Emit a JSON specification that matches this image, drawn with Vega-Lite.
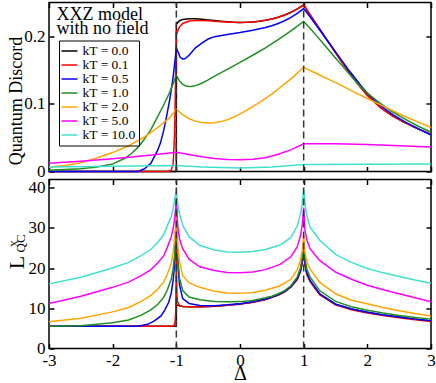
{
"$schema": "https://vega.github.io/schema/vega-lite/v6.json",
"autosize": {"type": "pad"},
"padding": {"left": 4, "top": 0.5, "right": 0, "bottom": 0},
"bounds": "flush",
"spacing": 8,
"config": {
  "font": "Liberation Serif",
  "view": {"stroke": "#000", "strokeWidth": 1.5},
  "axis": {"grid": false, "domain": false, "tickColor": "#000", "tickSize": -5, "tickWidth": 1.5, "labelFont": "Liberation Serif", "labelFontSize": 17, "labelColor": "#000", "labelPadding": 9, "labelFlush": false, "titleFont": "Liberation Serif", "titleColor": "#000", "titleFontWeight": "normal"},
  "line": {"strokeWidth": 1.5}
},
"datasets": {
"qd": [
{"kT":"kT = 0.0","D":-3,"Q":0},{"kT":"kT = 0.0","D":-2,"Q":0},{"kT":"kT = 0.0","D":-1,"Q":0},{"kT":"kT = 0.0","D":-0.999,"Q":0.218},{"kT":"kT = 0.0","D":-0.95,"Q":0.223},{"kT":"kT = 0.0","D":-0.9,"Q":0.225},{"kT":"kT = 0.0","D":-0.8,"Q":0.226},{"kT":"kT = 0.0","D":-0.7,"Q":0.2258},{"kT":"kT = 0.0","D":-0.6,"Q":0.2252},{"kT":"kT = 0.0","D":-0.5,"Q":0.2243},{"kT":"kT = 0.0","D":-0.4,"Q":0.2232},{"kT":"kT = 0.0","D":-0.3,"Q":0.2222},{"kT":"kT = 0.0","D":-0.2,"Q":0.2214},{"kT":"kT = 0.0","D":-0.1,"Q":0.2208},{"kT":"kT = 0.0","D":0,"Q":0.2205},{"kT":"kT = 0.0","D":0.1,"Q":0.2207},{"kT":"kT = 0.0","D":0.2,"Q":0.2213},{"kT":"kT = 0.0","D":0.3,"Q":0.2223},{"kT":"kT = 0.0","D":0.4,"Q":0.2237},{"kT":"kT = 0.0","D":0.5,"Q":0.2256},{"kT":"kT = 0.0","D":0.6,"Q":0.2282},{"kT":"kT = 0.0","D":0.7,"Q":0.2315},{"kT":"kT = 0.0","D":0.8,"Q":0.2355},{"kT":"kT = 0.0","D":0.9,"Q":0.2405},{"kT":"kT = 0.0","D":1,"Q":0.2465},{"kT":"kT = 0.0","D":1.1,"Q":0.232},{"kT":"kT = 0.0","D":1.2,"Q":0.218},{"kT":"kT = 0.0","D":1.3,"Q":0.204},{"kT":"kT = 0.0","D":1.4,"Q":0.19},{"kT":"kT = 0.0","D":1.5,"Q":0.176},{"kT":"kT = 0.0","D":1.6,"Q":0.162},{"kT":"kT = 0.0","D":1.7,"Q":0.149},{"kT":"kT = 0.0","D":1.8,"Q":0.136},{"kT":"kT = 0.0","D":1.9,"Q":0.124},{"kT":"kT = 0.0","D":2,"Q":0.113},{"kT":"kT = 0.0","D":2.2,"Q":0.095},{"kT":"kT = 0.0","D":2.4,"Q":0.082},{"kT":"kT = 0.0","D":2.6,"Q":0.072},{"kT":"kT = 0.0","D":2.8,"Q":0.063},{"kT":"kT = 0.0","D":3,"Q":0.055},
{"kT":"kT = 0.1","D":-3,"Q":0},{"kT":"kT = 0.1","D":-1.12,"Q":0},{"kT":"kT = 0.1","D":-1.08,"Q":0.002},{"kT":"kT = 0.1","D":-1.05,"Q":0.012},{"kT":"kT = 0.1","D":-1.03,"Q":0.05},{"kT":"kT = 0.1","D":-1.02,"Q":0.09},{"kT":"kT = 0.1","D":-1.01,"Q":0.15},{"kT":"kT = 0.1","D":-1,"Q":0.209},{"kT":"kT = 0.1","D":-0.99,"Q":0.205},{"kT":"kT = 0.1","D":-0.97,"Q":0.21},{"kT":"kT = 0.1","D":-0.95,"Q":0.214},{"kT":"kT = 0.1","D":-0.9,"Q":0.219},{"kT":"kT = 0.1","D":-0.8,"Q":0.2225},{"kT":"kT = 0.1","D":-0.7,"Q":0.2235},{"kT":"kT = 0.1","D":-0.6,"Q":0.2234},{"kT":"kT = 0.1","D":-0.5,"Q":0.2229},{"kT":"kT = 0.1","D":-0.4,"Q":0.2223},{"kT":"kT = 0.1","D":-0.3,"Q":0.2217},{"kT":"kT = 0.1","D":-0.2,"Q":0.2211},{"kT":"kT = 0.1","D":-0.1,"Q":0.2207},{"kT":"kT = 0.1","D":0,"Q":0.2204},{"kT":"kT = 0.1","D":0.1,"Q":0.2206},{"kT":"kT = 0.1","D":0.2,"Q":0.2212},{"kT":"kT = 0.1","D":0.3,"Q":0.2222},{"kT":"kT = 0.1","D":0.4,"Q":0.2236},{"kT":"kT = 0.1","D":0.5,"Q":0.2255},{"kT":"kT = 0.1","D":0.6,"Q":0.2281},{"kT":"kT = 0.1","D":0.7,"Q":0.2314},{"kT":"kT = 0.1","D":0.8,"Q":0.2354},{"kT":"kT = 0.1","D":0.9,"Q":0.2403},{"kT":"kT = 0.1","D":1,"Q":0.2462},{"kT":"kT = 0.1","D":1.1,"Q":0.2318},{"kT":"kT = 0.1","D":1.2,"Q":0.2178},{"kT":"kT = 0.1","D":1.3,"Q":0.2038},{"kT":"kT = 0.1","D":1.4,"Q":0.1898},{"kT":"kT = 0.1","D":1.5,"Q":0.1758},{"kT":"kT = 0.1","D":1.6,"Q":0.1618},{"kT":"kT = 0.1","D":1.7,"Q":0.1488},{"kT":"kT = 0.1","D":1.8,"Q":0.1358},{"kT":"kT = 0.1","D":1.9,"Q":0.1238},{"kT":"kT = 0.1","D":2,"Q":0.1128},{"kT":"kT = 0.1","D":2.2,"Q":0.0948},{"kT":"kT = 0.1","D":2.4,"Q":0.0818},{"kT":"kT = 0.1","D":2.6,"Q":0.0718},{"kT":"kT = 0.1","D":2.8,"Q":0.0628},{"kT":"kT = 0.1","D":3,"Q":0.055},
{"kT":"kT = 0.5","D":-3,"Q":0},{"kT":"kT = 0.5","D":-1.6,"Q":0},{"kT":"kT = 0.5","D":-1.5,"Q":0.004},{"kT":"kT = 0.5","D":-1.4,"Q":0.012},{"kT":"kT = 0.5","D":-1.3,"Q":0.03},{"kT":"kT = 0.5","D":-1.25,"Q":0.042},{"kT":"kT = 0.5","D":-1.2,"Q":0.06},{"kT":"kT = 0.5","D":-1.15,"Q":0.083},{"kT":"kT = 0.5","D":-1.1,"Q":0.108},{"kT":"kT = 0.5","D":-1.05,"Q":0.14},{"kT":"kT = 0.5","D":-1.02,"Q":0.165},{"kT":"kT = 0.5","D":-1,"Q":0.183},{"kT":"kT = 0.5","D":-0.97,"Q":0.176},{"kT":"kT = 0.5","D":-0.94,"Q":0.169},{"kT":"kT = 0.5","D":-0.9,"Q":0.1665},{"kT":"kT = 0.5","D":-0.86,"Q":0.167},{"kT":"kT = 0.5","D":-0.8,"Q":0.172},{"kT":"kT = 0.5","D":-0.7,"Q":0.183},{"kT":"kT = 0.5","D":-0.6,"Q":0.19},{"kT":"kT = 0.5","D":-0.5,"Q":0.196},{"kT":"kT = 0.5","D":-0.4,"Q":0.1995},{"kT":"kT = 0.5","D":-0.2,"Q":0.2025},{"kT":"kT = 0.5","D":0,"Q":0.2055},{"kT":"kT = 0.5","D":0.2,"Q":0.209},{"kT":"kT = 0.5","D":0.4,"Q":0.213},{"kT":"kT = 0.5","D":0.5,"Q":0.2155},{"kT":"kT = 0.5","D":0.6,"Q":0.219},{"kT":"kT = 0.5","D":0.7,"Q":0.223},{"kT":"kT = 0.5","D":0.8,"Q":0.228},{"kT":"kT = 0.5","D":0.9,"Q":0.234},{"kT":"kT = 0.5","D":1,"Q":0.241},{"kT":"kT = 0.5","D":1.1,"Q":0.229},{"kT":"kT = 0.5","D":1.2,"Q":0.216},{"kT":"kT = 0.5","D":1.3,"Q":0.203},{"kT":"kT = 0.5","D":1.4,"Q":0.19},{"kT":"kT = 0.5","D":1.5,"Q":0.177},{"kT":"kT = 0.5","D":1.6,"Q":0.164},{"kT":"kT = 0.5","D":1.7,"Q":0.151},{"kT":"kT = 0.5","D":1.8,"Q":0.139},{"kT":"kT = 0.5","D":1.9,"Q":0.127},{"kT":"kT = 0.5","D":2,"Q":0.116},{"kT":"kT = 0.5","D":2.2,"Q":0.098},{"kT":"kT = 0.5","D":2.4,"Q":0.084},{"kT":"kT = 0.5","D":2.6,"Q":0.073},{"kT":"kT = 0.5","D":2.8,"Q":0.063},{"kT":"kT = 0.5","D":3,"Q":0.054},
{"kT":"kT = 1.0","D":-3,"Q":0.002},{"kT":"kT = 1.0","D":-2.5,"Q":0.004},{"kT":"kT = 1.0","D":-2.25,"Q":0.0065},{"kT":"kT = 1.0","D":-2,"Q":0.011},{"kT":"kT = 1.0","D":-1.8,"Q":0.02},{"kT":"kT = 1.0","D":-1.7,"Q":0.027},{"kT":"kT = 1.0","D":-1.6,"Q":0.036},{"kT":"kT = 1.0","D":-1.5,"Q":0.048},{"kT":"kT = 1.0","D":-1.4,"Q":0.062},{"kT":"kT = 1.0","D":-1.3,"Q":0.08},{"kT":"kT = 1.0","D":-1.2,"Q":0.098},{"kT":"kT = 1.0","D":-1.1,"Q":0.118},{"kT":"kT = 1.0","D":-1,"Q":0.142},{"kT":"kT = 1.0","D":-0.95,"Q":0.134},{"kT":"kT = 1.0","D":-0.9,"Q":0.129},{"kT":"kT = 1.0","D":-0.85,"Q":0.1265},{"kT":"kT = 1.0","D":-0.8,"Q":0.1258},{"kT":"kT = 1.0","D":-0.75,"Q":0.126},{"kT":"kT = 1.0","D":-0.7,"Q":0.127},{"kT":"kT = 1.0","D":-0.6,"Q":0.1305},{"kT":"kT = 1.0","D":-0.5,"Q":0.1355},{"kT":"kT = 1.0","D":-0.4,"Q":0.141},{"kT":"kT = 1.0","D":-0.2,"Q":0.151},{"kT":"kT = 1.0","D":0,"Q":0.1615},{"kT":"kT = 1.0","D":0.2,"Q":0.172},{"kT":"kT = 1.0","D":0.4,"Q":0.183},{"kT":"kT = 1.0","D":0.6,"Q":0.195},{"kT":"kT = 1.0","D":0.8,"Q":0.208},{"kT":"kT = 1.0","D":1,"Q":0.222},{"kT":"kT = 1.0","D":1.1,"Q":0.212},{"kT":"kT = 1.0","D":1.2,"Q":0.201},{"kT":"kT = 1.0","D":1.3,"Q":0.19},{"kT":"kT = 1.0","D":1.4,"Q":0.179},{"kT":"kT = 1.0","D":1.5,"Q":0.168},{"kT":"kT = 1.0","D":1.6,"Q":0.157},{"kT":"kT = 1.0","D":1.7,"Q":0.146},{"kT":"kT = 1.0","D":1.8,"Q":0.135},{"kT":"kT = 1.0","D":1.9,"Q":0.125},{"kT":"kT = 1.0","D":2,"Q":0.116},{"kT":"kT = 1.0","D":2.2,"Q":0.101},{"kT":"kT = 1.0","D":2.4,"Q":0.088},{"kT":"kT = 1.0","D":2.6,"Q":0.077},{"kT":"kT = 1.0","D":2.8,"Q":0.067},{"kT":"kT = 1.0","D":3,"Q":0.058},
{"kT":"kT = 2.0","D":-3,"Q":0.0064},{"kT":"kT = 2.0","D":-2.75,"Q":0.009},{"kT":"kT = 2.0","D":-2.5,"Q":0.013},{"kT":"kT = 2.0","D":-2.25,"Q":0.02},{"kT":"kT = 2.0","D":-2,"Q":0.028},{"kT":"kT = 2.0","D":-1.75,"Q":0.038},{"kT":"kT = 2.0","D":-1.5,"Q":0.051},{"kT":"kT = 2.0","D":-1.25,"Q":0.068},{"kT":"kT = 2.0","D":-1.1,"Q":0.08},{"kT":"kT = 2.0","D":-1,"Q":0.092},{"kT":"kT = 2.0","D":-0.9,"Q":0.084},{"kT":"kT = 2.0","D":-0.8,"Q":0.078},{"kT":"kT = 2.0","D":-0.7,"Q":0.0745},{"kT":"kT = 2.0","D":-0.6,"Q":0.0725},{"kT":"kT = 2.0","D":-0.5,"Q":0.0718},{"kT":"kT = 2.0","D":-0.4,"Q":0.0722},{"kT":"kT = 2.0","D":-0.3,"Q":0.0738},{"kT":"kT = 2.0","D":-0.2,"Q":0.0765},{"kT":"kT = 2.0","D":-0.1,"Q":0.0805},{"kT":"kT = 2.0","D":0,"Q":0.0852},{"kT":"kT = 2.0","D":0.1,"Q":0.0905},{"kT":"kT = 2.0","D":0.2,"Q":0.096},{"kT":"kT = 2.0","D":0.3,"Q":0.102},{"kT":"kT = 2.0","D":0.4,"Q":0.108},{"kT":"kT = 2.0","D":0.5,"Q":0.1145},{"kT":"kT = 2.0","D":0.6,"Q":0.122},{"kT":"kT = 2.0","D":0.7,"Q":0.1295},{"kT":"kT = 2.0","D":0.8,"Q":0.137},{"kT":"kT = 2.0","D":0.9,"Q":0.1455},{"kT":"kT = 2.0","D":1,"Q":0.154},{"kT":"kT = 2.0","D":1.2,"Q":0.145},{"kT":"kT = 2.0","D":1.4,"Q":0.136},{"kT":"kT = 2.0","D":1.6,"Q":0.127},{"kT":"kT = 2.0","D":1.8,"Q":0.117},{"kT":"kT = 2.0","D":2,"Q":0.108},{"kT":"kT = 2.0","D":2.2,"Q":0.099},{"kT":"kT = 2.0","D":2.4,"Q":0.09},{"kT":"kT = 2.0","D":2.6,"Q":0.081},{"kT":"kT = 2.0","D":2.8,"Q":0.073},{"kT":"kT = 2.0","D":3,"Q":0.065},
{"kT":"kT = 5.0","D":-3,"Q":0.0123},{"kT":"kT = 5.0","D":-2.5,"Q":0.0152},{"kT":"kT = 5.0","D":-2,"Q":0.0188},{"kT":"kT = 5.0","D":-1.5,"Q":0.0233},{"kT":"kT = 5.0","D":-1,"Q":0.0286},{"kT":"kT = 5.0","D":-0.8,"Q":0.0252},{"kT":"kT = 5.0","D":-0.6,"Q":0.0218},{"kT":"kT = 5.0","D":-0.4,"Q":0.0194},{"kT":"kT = 5.0","D":-0.2,"Q":0.0178},{"kT":"kT = 5.0","D":0,"Q":0.0173},{"kT":"kT = 5.0","D":0.2,"Q":0.0182},{"kT":"kT = 5.0","D":0.4,"Q":0.0205},{"kT":"kT = 5.0","D":0.6,"Q":0.0255},{"kT":"kT = 5.0","D":0.8,"Q":0.032},{"kT":"kT = 5.0","D":1,"Q":0.041},{"kT":"kT = 5.0","D":1.5,"Q":0.0412},{"kT":"kT = 5.0","D":2,"Q":0.04},{"kT":"kT = 5.0","D":2.5,"Q":0.0382},{"kT":"kT = 5.0","D":3,"Q":0.0362},
{"kT":"kT = 10.0","D":-3,"Q":0.0068},{"kT":"kT = 10.0","D":-2,"Q":0.0079},{"kT":"kT = 10.0","D":-1,"Q":0.0089},{"kT":"kT = 10.0","D":-0.6,"Q":0.0065},{"kT":"kT = 10.0","D":0,"Q":0.005},{"kT":"kT = 10.0","D":0.5,"Q":0.0065},{"kT":"kT = 10.0","D":1,"Q":0.0104},{"kT":"kT = 10.0","D":2,"Q":0.0107},{"kT":"kT = 10.0","D":3,"Q":0.011}
],
"lx": [
{"kT":"kT = 0.0","D":-3,"L":5.5},{"kT":"kT = 0.0","D":-1,"L":5.5},{"kT":"kT = 0.0","D":-0.999,"L":10.8},{"kT":"kT = 0.0","D":-0.95,"L":10.6},{"kT":"kT = 0.0","D":-0.9,"L":10.45},{"kT":"kT = 0.0","D":-0.8,"L":10.35},{"kT":"kT = 0.0","D":-0.6,"L":10.35},{"kT":"kT = 0.0","D":-0.4,"L":10.5},{"kT":"kT = 0.0","D":-0.2,"L":10.75},{"kT":"kT = 0.0","D":0,"L":11.05},{"kT":"kT = 0.0","D":0.2,"L":11.5},{"kT":"kT = 0.0","D":0.4,"L":12.2},{"kT":"kT = 0.0","D":0.5,"L":12.7},{"kT":"kT = 0.0","D":0.6,"L":13.3},{"kT":"kT = 0.0","D":0.7,"L":14.1},{"kT":"kT = 0.0","D":0.8,"L":15.3},{"kT":"kT = 0.0","D":0.9,"L":17.2},{"kT":"kT = 0.0","D":0.95,"L":19.2},{"kT":"kT = 0.0","D":0.98,"L":21.6},{"kT":"kT = 0.0","D":1,"L":25},{"kT":"kT = 0.0","D":1.02,"L":21},{"kT":"kT = 0.0","D":1.05,"L":18.6},{"kT":"kT = 0.0","D":1.1,"L":16.8},{"kT":"kT = 0.0","D":1.25,"L":13.6},{"kT":"kT = 0.0","D":1.5,"L":11},{"kT":"kT = 0.0","D":1.75,"L":9.8},{"kT":"kT = 0.0","D":2,"L":9},{"kT":"kT = 0.0","D":2.25,"L":8.35},{"kT":"kT = 0.0","D":2.5,"L":7.8},{"kT":"kT = 0.0","D":2.75,"L":7.3},{"kT":"kT = 0.0","D":3,"L":6.85},
{"kT":"kT = 0.1","D":-3,"L":5.5},{"kT":"kT = 0.1","D":-1.08,"L":5.5},{"kT":"kT = 0.1","D":-1.04,"L":5.7},{"kT":"kT = 0.1","D":-1.02,"L":6.5},{"kT":"kT = 0.1","D":-1.01,"L":9},{"kT":"kT = 0.1","D":-1.004,"L":16},{"kT":"kT = 0.1","D":-1,"L":33},{"kT":"kT = 0.1","D":-0.996,"L":18},{"kT":"kT = 0.1","D":-0.99,"L":13},{"kT":"kT = 0.1","D":-0.98,"L":11.5},{"kT":"kT = 0.1","D":-0.95,"L":10.7},{"kT":"kT = 0.1","D":-0.9,"L":10.45},{"kT":"kT = 0.1","D":-0.8,"L":10.35},{"kT":"kT = 0.1","D":-0.6,"L":10.35},{"kT":"kT = 0.1","D":-0.4,"L":10.5},{"kT":"kT = 0.1","D":-0.2,"L":10.75},{"kT":"kT = 0.1","D":0,"L":11.05},{"kT":"kT = 0.1","D":0.2,"L":11.5},{"kT":"kT = 0.1","D":0.4,"L":12.2},{"kT":"kT = 0.1","D":0.5,"L":12.7},{"kT":"kT = 0.1","D":0.6,"L":13.3},{"kT":"kT = 0.1","D":0.7,"L":14.1},{"kT":"kT = 0.1","D":0.8,"L":15.3},{"kT":"kT = 0.1","D":0.9,"L":17.2},{"kT":"kT = 0.1","D":0.95,"L":19.2},{"kT":"kT = 0.1","D":0.98,"L":21.7},{"kT":"kT = 0.1","D":1,"L":25.5},{"kT":"kT = 0.1","D":1.02,"L":21},{"kT":"kT = 0.1","D":1.05,"L":18.4},{"kT":"kT = 0.1","D":1.1,"L":16.6},{"kT":"kT = 0.1","D":1.25,"L":13.4},{"kT":"kT = 0.1","D":1.5,"L":10.85},{"kT":"kT = 0.1","D":1.75,"L":9.65},{"kT":"kT = 0.1","D":2,"L":8.85},{"kT":"kT = 0.1","D":2.25,"L":8.2},{"kT":"kT = 0.1","D":2.5,"L":7.65},{"kT":"kT = 0.1","D":2.75,"L":7.15},{"kT":"kT = 0.1","D":3,"L":6.7},
{"kT":"kT = 0.5","D":-3,"L":5.5},{"kT":"kT = 0.5","D":-1.7,"L":5.5},{"kT":"kT = 0.5","D":-1.6,"L":5.55},{"kT":"kT = 0.5","D":-1.45,"L":6},{"kT":"kT = 0.5","D":-1.35,"L":6.8},{"kT":"kT = 0.5","D":-1.24,"L":8.1},{"kT":"kT = 0.5","D":-1.18,"L":9.6},{"kT":"kT = 0.5","D":-1.12,"L":11.5},{"kT":"kT = 0.5","D":-1.08,"L":13.8},{"kT":"kT = 0.5","D":-1.05,"L":17},{"kT":"kT = 0.5","D":-1.03,"L":20.5},{"kT":"kT = 0.5","D":-1.015,"L":26},{"kT":"kT = 0.5","D":-1,"L":35},{"kT":"kT = 0.5","D":-0.985,"L":25},{"kT":"kT = 0.5","D":-0.97,"L":20},{"kT":"kT = 0.5","D":-0.95,"L":15.8},{"kT":"kT = 0.5","D":-0.9,"L":12.4},{"kT":"kT = 0.5","D":-0.8,"L":11.2},{"kT":"kT = 0.5","D":-0.63,"L":10.7},{"kT":"kT = 0.5","D":-0.4,"L":10.65},{"kT":"kT = 0.5","D":-0.2,"L":10.85},{"kT":"kT = 0.5","D":0,"L":11.15},{"kT":"kT = 0.5","D":0.2,"L":11.6},{"kT":"kT = 0.5","D":0.4,"L":12.3},{"kT":"kT = 0.5","D":0.5,"L":12.8},{"kT":"kT = 0.5","D":0.6,"L":13.4},{"kT":"kT = 0.5","D":0.7,"L":14.2},{"kT":"kT = 0.5","D":0.8,"L":15.4},{"kT":"kT = 0.5","D":0.9,"L":17.4},{"kT":"kT = 0.5","D":0.95,"L":19.5},{"kT":"kT = 0.5","D":0.98,"L":22},{"kT":"kT = 0.5","D":1,"L":26},{"kT":"kT = 0.5","D":1.02,"L":21.3},{"kT":"kT = 0.5","D":1.05,"L":18.8},{"kT":"kT = 0.5","D":1.1,"L":16.9},{"kT":"kT = 0.5","D":1.25,"L":13.6},{"kT":"kT = 0.5","D":1.5,"L":11},{"kT":"kT = 0.5","D":1.75,"L":9.8},{"kT":"kT = 0.5","D":2,"L":9},{"kT":"kT = 0.5","D":2.25,"L":8.35},{"kT":"kT = 0.5","D":2.5,"L":7.8},{"kT":"kT = 0.5","D":2.75,"L":7.3},{"kT":"kT = 0.5","D":3,"L":6.9},
{"kT":"kT = 1.0","D":-3,"L":5.5},{"kT":"kT = 1.0","D":-2.5,"L":5.66},{"kT":"kT = 1.0","D":-2,"L":6.4},{"kT":"kT = 1.0","D":-1.75,"L":7.1},{"kT":"kT = 1.0","D":-1.55,"L":8.3},{"kT":"kT = 1.0","D":-1.4,"L":9.6},{"kT":"kT = 1.0","D":-1.29,"L":11},{"kT":"kT = 1.0","D":-1.2,"L":12.7},{"kT":"kT = 1.0","D":-1.14,"L":14.6},{"kT":"kT = 1.0","D":-1.08,"L":17.2},{"kT":"kT = 1.0","D":-1.05,"L":19.8},{"kT":"kT = 1.0","D":-1.025,"L":23.5},{"kT":"kT = 1.0","D":-1.01,"L":28},{"kT":"kT = 1.0","D":-1,"L":36},{"kT":"kT = 1.0","D":-0.99,"L":28},{"kT":"kT = 1.0","D":-0.975,"L":22},{"kT":"kT = 1.0","D":-0.95,"L":17.5},{"kT":"kT = 1.0","D":-0.9,"L":14.4},{"kT":"kT = 1.0","D":-0.8,"L":12.8},{"kT":"kT = 1.0","D":-0.63,"L":12.1},{"kT":"kT = 1.0","D":-0.4,"L":11.7},{"kT":"kT = 1.0","D":-0.2,"L":11.6},{"kT":"kT = 1.0","D":0,"L":11.65},{"kT":"kT = 1.0","D":0.2,"L":11.95},{"kT":"kT = 1.0","D":0.4,"L":12.6},{"kT":"kT = 1.0","D":0.5,"L":13},{"kT":"kT = 1.0","D":0.6,"L":13.6},{"kT":"kT = 1.0","D":0.7,"L":14.4},{"kT":"kT = 1.0","D":0.8,"L":15.6},{"kT":"kT = 1.0","D":0.9,"L":17.8},{"kT":"kT = 1.0","D":0.95,"L":20},{"kT":"kT = 1.0","D":0.98,"L":22.8},{"kT":"kT = 1.0","D":1,"L":26.5},{"kT":"kT = 1.0","D":1.02,"L":22.3},{"kT":"kT = 1.0","D":1.05,"L":19.7},{"kT":"kT = 1.0","D":1.1,"L":17.8},{"kT":"kT = 1.0","D":1.25,"L":14.4},{"kT":"kT = 1.0","D":1.5,"L":11.7},{"kT":"kT = 1.0","D":1.75,"L":10.4},{"kT":"kT = 1.0","D":2,"L":9.5},{"kT":"kT = 1.0","D":2.25,"L":8.8},{"kT":"kT = 1.0","D":2.5,"L":8.2},{"kT":"kT = 1.0","D":2.75,"L":7.7},{"kT":"kT = 1.0","D":3,"L":7.3},
{"kT":"kT = 2.0","D":-3,"L":6.66},{"kT":"kT = 2.0","D":-2.5,"L":7.5},{"kT":"kT = 2.0","D":-2,"L":9.1},{"kT":"kT = 2.0","D":-1.75,"L":10.2},{"kT":"kT = 2.0","D":-1.55,"L":11.7},{"kT":"kT = 2.0","D":-1.4,"L":13.2},{"kT":"kT = 2.0","D":-1.29,"L":14.8},{"kT":"kT = 2.0","D":-1.2,"L":16.5},{"kT":"kT = 2.0","D":-1.14,"L":18.5},{"kT":"kT = 2.0","D":-1.08,"L":21.2},{"kT":"kT = 2.0","D":-1.05,"L":23.9},{"kT":"kT = 2.0","D":-1.025,"L":27.5},{"kT":"kT = 2.0","D":-1.01,"L":31},{"kT":"kT = 2.0","D":-1,"L":37},{"kT":"kT = 2.0","D":-0.99,"L":30},{"kT":"kT = 2.0","D":-0.975,"L":25},{"kT":"kT = 2.0","D":-0.95,"L":21.5},{"kT":"kT = 2.0","D":-0.9,"L":18.1},{"kT":"kT = 2.0","D":-0.8,"L":16.3},{"kT":"kT = 2.0","D":-0.63,"L":15.2},{"kT":"kT = 2.0","D":-0.4,"L":14.2},{"kT":"kT = 2.0","D":-0.2,"L":13.8},{"kT":"kT = 2.0","D":0,"L":13.7},{"kT":"kT = 2.0","D":0.2,"L":13.9},{"kT":"kT = 2.0","D":0.4,"L":14.5},{"kT":"kT = 2.0","D":0.63,"L":15.6},{"kT":"kT = 2.0","D":0.8,"L":17.2},{"kT":"kT = 2.0","D":0.9,"L":19.6},{"kT":"kT = 2.0","D":0.95,"L":22},{"kT":"kT = 2.0","D":0.98,"L":24.5},{"kT":"kT = 2.0","D":1,"L":28.2},{"kT":"kT = 2.0","D":1.02,"L":24},{"kT":"kT = 2.0","D":1.05,"L":21.5},{"kT":"kT = 2.0","D":1.1,"L":19.8},{"kT":"kT = 2.0","D":1.25,"L":16.5},{"kT":"kT = 2.0","D":1.5,"L":13.6},{"kT":"kT = 2.0","D":1.75,"L":12},{"kT":"kT = 2.0","D":2,"L":11.1},{"kT":"kT = 2.0","D":2.25,"L":10.2},{"kT":"kT = 2.0","D":2.5,"L":9.4},{"kT":"kT = 2.0","D":2.75,"L":8.7},{"kT":"kT = 2.0","D":3,"L":8.1},
{"kT":"kT = 5.0","D":-3,"L":11.2},{"kT":"kT = 5.0","D":-2.5,"L":13},{"kT":"kT = 5.0","D":-2,"L":15.2},{"kT":"kT = 5.0","D":-1.75,"L":16.5},{"kT":"kT = 5.0","D":-1.55,"L":18.1},{"kT":"kT = 5.0","D":-1.4,"L":19.6},{"kT":"kT = 5.0","D":-1.29,"L":21.3},{"kT":"kT = 5.0","D":-1.2,"L":23},{"kT":"kT = 5.0","D":-1.14,"L":25.2},{"kT":"kT = 5.0","D":-1.08,"L":27.8},{"kT":"kT = 5.0","D":-1.05,"L":29.8},{"kT":"kT = 5.0","D":-1.025,"L":32.5},{"kT":"kT = 5.0","D":-1.01,"L":35},{"kT":"kT = 5.0","D":-1,"L":37.5},{"kT":"kT = 5.0","D":-0.99,"L":33.5},{"kT":"kT = 5.0","D":-0.975,"L":30},{"kT":"kT = 5.0","D":-0.95,"L":27.2},{"kT":"kT = 5.0","D":-0.9,"L":24.8},{"kT":"kT = 5.0","D":-0.8,"L":22.2},{"kT":"kT = 5.0","D":-0.63,"L":20.3},{"kT":"kT = 5.0","D":-0.4,"L":19.4},{"kT":"kT = 5.0","D":-0.2,"L":18.9},{"kT":"kT = 5.0","D":0,"L":18.8},{"kT":"kT = 5.0","D":0.2,"L":19},{"kT":"kT = 5.0","D":0.4,"L":19.6},{"kT":"kT = 5.0","D":0.63,"L":20.9},{"kT":"kT = 5.0","D":0.8,"L":22.8},{"kT":"kT = 5.0","D":0.9,"L":25.3},{"kT":"kT = 5.0","D":0.95,"L":28},{"kT":"kT = 5.0","D":0.98,"L":31},{"kT":"kT = 5.0","D":1,"L":35},{"kT":"kT = 5.0","D":1.02,"L":29.5},{"kT":"kT = 5.0","D":1.05,"L":27},{"kT":"kT = 5.0","D":1.1,"L":24.8},{"kT":"kT = 5.0","D":1.25,"L":21.9},{"kT":"kT = 5.0","D":1.5,"L":19},{"kT":"kT = 5.0","D":1.75,"L":17.2},{"kT":"kT = 5.0","D":2,"L":15.7},{"kT":"kT = 5.0","D":2.25,"L":14.6},{"kT":"kT = 5.0","D":2.5,"L":13.6},{"kT":"kT = 5.0","D":2.75,"L":12.6},{"kT":"kT = 5.0","D":3,"L":11.6},
{"kT":"kT = 10.0","D":-3,"L":16.06},{"kT":"kT = 10.0","D":-2.5,"L":17.7},{"kT":"kT = 10.0","D":-2,"L":20},{"kT":"kT = 10.0","D":-1.75,"L":21.4},{"kT":"kT = 10.0","D":-1.55,"L":23.1},{"kT":"kT = 10.0","D":-1.4,"L":24.6},{"kT":"kT = 10.0","D":-1.29,"L":26.4},{"kT":"kT = 10.0","D":-1.2,"L":28.2},{"kT":"kT = 10.0","D":-1.14,"L":30.6},{"kT":"kT = 10.0","D":-1.08,"L":32.8},{"kT":"kT = 10.0","D":-1.05,"L":34.8},{"kT":"kT = 10.0","D":-1.025,"L":37},{"kT":"kT = 10.0","D":-1,"L":39.5},{"kT":"kT = 10.0","D":-0.975,"L":35.5},{"kT":"kT = 10.0","D":-0.95,"L":33.5},{"kT":"kT = 10.0","D":-0.9,"L":30.6},{"kT":"kT = 10.0","D":-0.8,"L":27.8},{"kT":"kT = 10.0","D":-0.63,"L":25.6},{"kT":"kT = 10.0","D":-0.4,"L":24.5},{"kT":"kT = 10.0","D":-0.2,"L":24},{"kT":"kT = 10.0","D":0,"L":23.9},{"kT":"kT = 10.0","D":0.2,"L":24.1},{"kT":"kT = 10.0","D":0.4,"L":24.6},{"kT":"kT = 10.0","D":0.63,"L":25.7},{"kT":"kT = 10.0","D":0.8,"L":27.6},{"kT":"kT = 10.0","D":0.9,"L":30.5},{"kT":"kT = 10.0","D":0.95,"L":33.4},{"kT":"kT = 10.0","D":0.975,"L":35.8},{"kT":"kT = 10.0","D":1,"L":39.5},{"kT":"kT = 10.0","D":1.025,"L":35.5},{"kT":"kT = 10.0","D":1.05,"L":33},{"kT":"kT = 10.0","D":1.1,"L":30.2},{"kT":"kT = 10.0","D":1.25,"L":26.9},{"kT":"kT = 10.0","D":1.5,"L":23.4},{"kT":"kT = 10.0","D":1.75,"L":21.4},{"kT":"kT = 10.0","D":2,"L":19.9},{"kT":"kT = 10.0","D":2.25,"L":18.8},{"kT":"kT = 10.0","D":2.5,"L":17.9},{"kT":"kT = 10.0","D":2.75,"L":17},{"kT":"kT = 10.0","D":3,"L":16.2}
],
"marks": [{"D": -1}, {"D": 1}]
},
"vconcat": [
{
  "width": 382, "height": 169,
  "layer": [
    {
      "data": {"name": "qd"},
      "mark": {"type": "line", "strokeWidth": 1.5},
      "encoding": {
        "x": {"field": "D", "type": "quantitative", "scale": {"domain": [-3, 3], "nice": false, "zero": false},
              "axis": {"orient": "bottom", "values": [-3, -2, -1, 0, 1, 2, 3], "labels": false, "title": null}},
        "y": {"field": "Q", "type": "quantitative", "scale": {"domain": [0, 0.25], "nice": false},
              "axis": {"orient": "left", "values": [0, 0.1, 0.2], "format": ".1~f", "title": "Quantum Discord", "titleFontSize": 18, "titleAngle": 270, "titleX": -27.3, "titleY": 98, "titleAlign": "center", "titleBaseline": "alphabetic"}},
        "color": {"field": "kT", "type": "nominal",
          "scale": {"domain": ["kT = 0.0", "kT = 0.1", "kT = 0.5", "kT = 1.0", "kT = 2.0", "kT = 5.0", "kT = 10.0"],
                    "range": ["#000000", "#ff0000", "#0000ff", "#1f8f1f", "#ffa500", "#ff00ff", "#40e0d0"]},
          "legend": {"orient": "none", "legendX": 10, "legendY": 38, "title": null, "strokeColor": "#000", "padding": 3.5, "symbolType": "M-1.3,0H1.3", "symbolSize": 150, "symbolStrokeWidth": 1.5, "labelFont": "Liberation Serif", "labelFontSize": 13.5, "labelColor": "#000", "labelOffset": 6, "rowPadding": -0.4}}
      }
    },
    {
      "data": {"name": "marks"},
      "mark": {"type": "rule", "strokeDash": [7, 4], "strokeWidth": 1.5, "color": "#333"},
      "encoding": {
        "x": {"field": "D", "type": "quantitative", "scale": {"domain": [-3, 3], "nice": false, "zero": false},
              "axis": {"orient": "top", "values": [-3, -2, -1, 0, 1, 2, 3], "labels": false, "title": ["XXZ model", "with no field"], "titleX": 7, "titleY": 17.3, "titleAlign": "left", "titleBaseline": "alphabetic", "titleAngle": 0, "titleFontSize": 18, "titleLineHeight": 14}},
        "y": {"datum": 0, "scale": {"domain": [0, 0.25], "nice": false},
              "axis": {"orient": "right", "values": [0, 0.1, 0.2], "labels": false, "title": null}},
        "y2": {"datum": 0.25}
      }
    }
  ],
  "resolve": {"axis": {"x": "independent", "y": "independent"}}
},
{
  "width": 382, "height": 169,
  "layer": [
    {
      "data": {"name": "lx"},
      "mark": {"type": "line", "strokeWidth": 1.5},
      "encoding": {
        "x": {"field": "D", "type": "quantitative", "scale": {"domain": [-3, 3], "nice": false, "zero": false},
              "axis": {"orient": "bottom", "values": [-3, -2, -1, 0, 1, 2, 3], "labelExpr": "replace(datum.label, '\u2212', '-')", "title": "Δ", "titleFontSize": 20, "titleX": 191, "titleY": 31, "titleAlign": "center", "titleBaseline": "alphabetic"}},
        "y": {"field": "L", "type": "quantitative", "scale": {"domain": [0, 42], "nice": false},
              "axis": {"orient": "left", "values": [0, 10, 20, 30, 40], "title": "L", "titleFontSize": 22, "titleAngle": 270, "titleX": -25.7, "titleY": 89.3, "titleAlign": "left", "titleBaseline": "alphabetic"}},
        "color": {"field": "kT", "type": "nominal",
          "scale": {"domain": ["kT = 0.0", "kT = 0.1", "kT = 0.5", "kT = 1.0", "kT = 2.0", "kT = 5.0", "kT = 10.0"],
                    "range": ["#000000", "#ff0000", "#0000ff", "#1f8f1f", "#ffa500", "#ff00ff", "#40e0d0"]},
          "legend": {"orient": "none", "legendX": 10, "legendY": 38, "title": null, "strokeColor": "#000", "padding": 3.5, "symbolType": "M-1.3,0H1.3", "symbolSize": 150, "symbolStrokeWidth": 1.5, "labelFont": "Liberation Serif", "labelFontSize": 13.5, "labelColor": "#000", "labelOffset": 6, "rowPadding": -0.4}}
      }
    },
    {
      "data": {"name": "marks"},
      "mark": {"type": "rule", "strokeDash": [7, 4], "strokeWidth": 1.5, "color": "#333"},
      "encoding": {
        "x": {"field": "D", "type": "quantitative", "scale": {"domain": [-3, 3], "nice": false, "zero": false},
              "axis": {"orient": "top", "values": [-3, -2, -1, 0, 1, 2, 3], "labels": false, "title": null}},
        "y": {"datum": 0, "scale": {"domain": [0, 42], "nice": false},
              "axis": {"orient": "right", "values": [0, 10, 20, 30, 40], "labels": false, "title": null}},
        "y2": {"datum": 42}
      }
    },
    {
      "data": {"values": [{}]},
      "mark": {"type": "text", "text": "QC", "angle": 270, "align": "left", "baseline": "alphabetic", "fontSize": 13, "font": "Liberation Serif", "color": "#000", "clip": false},
      "encoding": {
        "x": {"datum": -3.377, "type": "quantitative", "scale": {"domain": [-3, 3], "nice": false, "zero": false}, "axis": null},
        "y": {"datum": 23.86, "type": "quantitative", "scale": {"domain": [0, 42], "nice": false}, "axis": null}
      }
    },
    {
      "data": {"values": [{}]},
      "mark": {"type": "text", "text": "X", "angle": 270, "align": "left", "baseline": "alphabetic", "fontSize": 10, "font": "Liberation Serif", "color": "#000", "clip": false},
      "encoding": {
        "x": {"datum": -3.482, "type": "quantitative", "scale": {"domain": [-3, 3], "nice": false, "zero": false}, "axis": null},
        "y": {"datum": 25.18, "type": "quantitative", "scale": {"domain": [0, 42], "nice": false}, "axis": null}
      }
    }
  ],
  "resolve": {"axis": {"x": "independent", "y": "independent"}}
}
]
}
